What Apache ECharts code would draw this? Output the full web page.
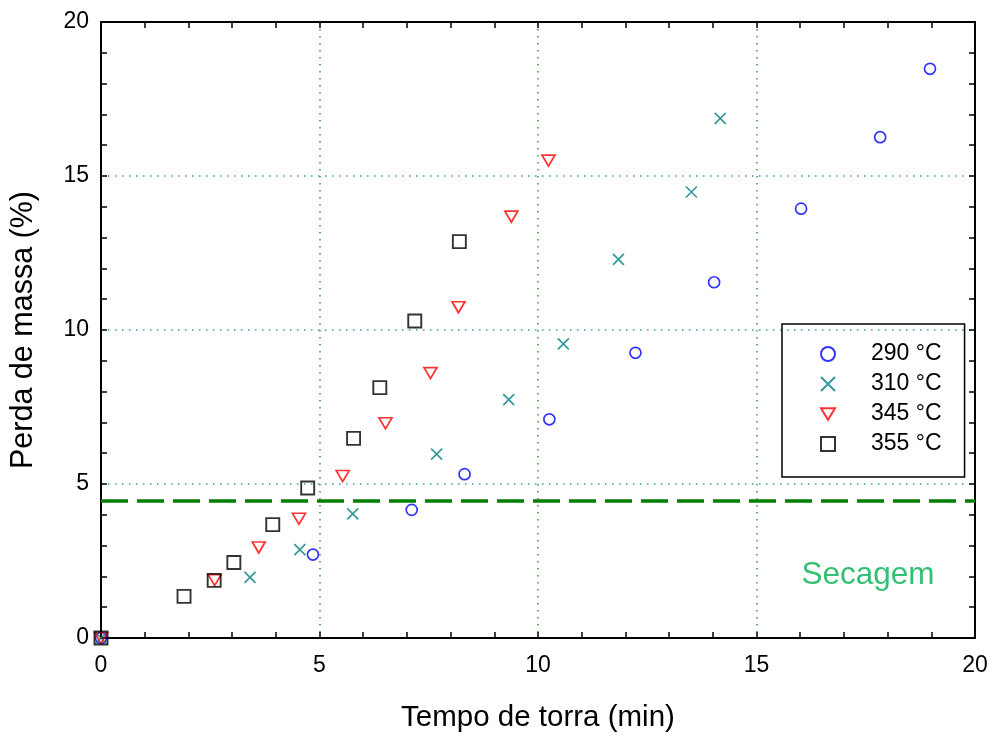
<!DOCTYPE html>
<html>
<head>
<meta charset="utf-8">
<script src="https://cdn.jsdelivr.net/npm/echarts@6/dist/echarts.min.js"></script>
<style>html,body{margin:0;padding:0;background:#fff;overflow:hidden;}#c{width:993px;height:738px;}</style>
</head>
<body>
<div id="c"></div>
<script>
const seriesNames = ['290 °C', '310 °C', '345 °C', '355 °C'];
const t290 = [0, 4.85, 7.11, 8.32, 10.26, 12.23, 14.03, 16.02, 17.83, 18.97];
const m290 = [0, 2.71, 4.16, 5.32, 7.10, 9.26, 11.55, 13.94, 16.26, 18.48];
const t310 = [0, 3.41, 4.55, 5.76, 7.68, 9.33, 10.58, 11.84, 13.51, 14.17];
const m310 = [0, 1.97, 2.87, 4.03, 5.97, 7.74, 9.55, 12.29, 14.48, 16.87];
const t345 = [0, 2.60, 3.61, 4.53, 5.53, 6.51, 7.54, 8.18, 9.39, 10.24];
const m345 = [0, 1.88, 2.94, 3.87, 5.26, 6.97, 8.60, 10.74, 13.68, 15.50];
const t355 = [0, 1.90, 2.59, 3.04, 3.93, 4.73, 5.78, 6.38, 7.18, 8.20];
const m355 = [0, 1.35, 1.87, 2.45, 3.68, 4.87, 6.48, 8.13, 10.29, 12.87];
const secagemLevel = 4.45;
const secagemX = [0, 20];
const secagemLabel = 'Secagem';
const secagemLabelPos = [17.55, 2.03];
const xTicks = [0, 5, 10, 15, 20];
const yTicks = [0, 5, 10, 15, 20];

const FONT = 'Liberation Sans, Arial, Helvetica, sans-serif';
const pair = (xs, ys) => xs.map((x, i) => [x, ys[i]]);

const chart = echarts.init(document.getElementById('c'), null, {renderer: 'canvas', width: 993, height: 738});

function axisCommon(isX, primary, gridColor) {
  return {
    type: 'value',
    min: isX ? xTicks[0] : yTicks[0],
    max: isX ? xTicks[xTicks.length - 1] : yTicks[yTicks.length - 1],
    interval: 5,
    axisLine: {show: true, onZero: false, lineStyle: {color: '#000', width: 2}},
    axisTick: {show: true, inside: true, length: 6, lineStyle: {color: '#000', width: 1.5}},
    minorTick: {show: true, splitNumber: 5, length: 6, lineStyle: {color: '#000', width: 1.5}},
    axisLabel: primary ? {
      show: true, color: '#000', fontSize: 23, fontFamily: FONT, margin: isX ? 16 : 12
    } : {show: false},
    splitLine: primary ? {
      show: true,
      lineStyle: {color: gridColor, width: 1.5, type: [1.5, 5.5]}
    } : {show: false}
  };
}

const xMain = Object.assign(axisCommon(true, true, '#3a9a3a'), {
  position: 'bottom',
  name: 'Tempo de torra (min)', nameLocation: 'middle', nameGap: 65,
  nameTextStyle: {color: '#000', fontSize: 29.5, fontFamily: FONT}
});
const xTop = Object.assign(axisCommon(true, false), {position: 'top'});
const yMain = Object.assign(axisCommon(false, true, '#3a9a9a'), {
  position: 'left',
  name: 'Perda de massa (%)', nameLocation: 'middle', nameGap: 62,
  nameTextStyle: {color: '#000', fontSize: 30.5, fontFamily: FONT}
});
const yRight = Object.assign(axisCommon(false, false), {position: 'right'});

const crossPath = 'path://M0,0L10,10M10,0L0,10';
const triDownPath = 'path://M0,0L12,0L6,10Z';

chart.setOption({
  animation: false,
  backgroundColor: '#fff',
  grid: {left: 100, right: 18, top: 22, bottom: 96, containLabel: false},
  xAxis: [xMain, xTop],
  yAxis: [yMain, yRight],
  legend: {
    data: seriesNames,
    orient: 'vertical',
    left: 782, top: 324,
    borderColor: '#000', borderWidth: 1.5,
    padding: [18, 23, 21, 38],
    itemWidth: 14, itemHeight: 14, itemGap: 6,
    textStyle: {color: '#000', fontSize: 23, fontFamily: FONT, lineHeight: 24, padding: [0, 0, 0, 31]},
    selectedMode: false
  },
  series: [
    {
      name: 'secagem', type: 'line', data: pair(secagemX, secagemX.map(() => secagemLevel)),
      symbol: 'none', silent: true, z: 1,
      lineStyle: {color: '#008000', width: 3.5, type: [27, 9]}
    },
    {
      name: 'secagemText', type: 'scatter', data: [secagemLabelPos], symbolSize: 0.1, silent: true,
      label: {show: true, position: 'inside', formatter: secagemLabel, color: '#00b050', fontSize: 31.5, fontFamily: FONT}
    },
    {
      name: seriesNames[0], type: 'scatter', data: pair(t290, m290), symbol: 'circle', symbolSize: 11, z: 3,
      itemStyle: {color: 'rgba(255,255,255,0)', borderColor: '#0000ff', borderWidth: 1.7}
    },
    {
      name: seriesNames[1], type: 'scatter', data: pair(t310, m310), symbol: crossPath, symbolSize: 11, z: 4,
      itemStyle: {color: 'rgba(255,255,255,0)', borderColor: '#008080', borderWidth: 1.7}
    },
    {
      name: seriesNames[2], type: 'scatter', data: pair(t345, m345), symbol: triDownPath,
      symbolSize: [13, 11], z: 5,
      itemStyle: {color: 'rgba(255,255,255,0)', borderColor: '#ff0000', borderWidth: 1.7}
    },
    {
      name: seriesNames[3], type: 'scatter', data: pair(t355, m355), symbol: 'rect', symbolSize: 13, z: 6,
      itemStyle: {color: 'rgba(255,255,255,0)', borderColor: '#000000', borderWidth: 1.9}
    }
  ]
});
</script>
</body>
</html>
